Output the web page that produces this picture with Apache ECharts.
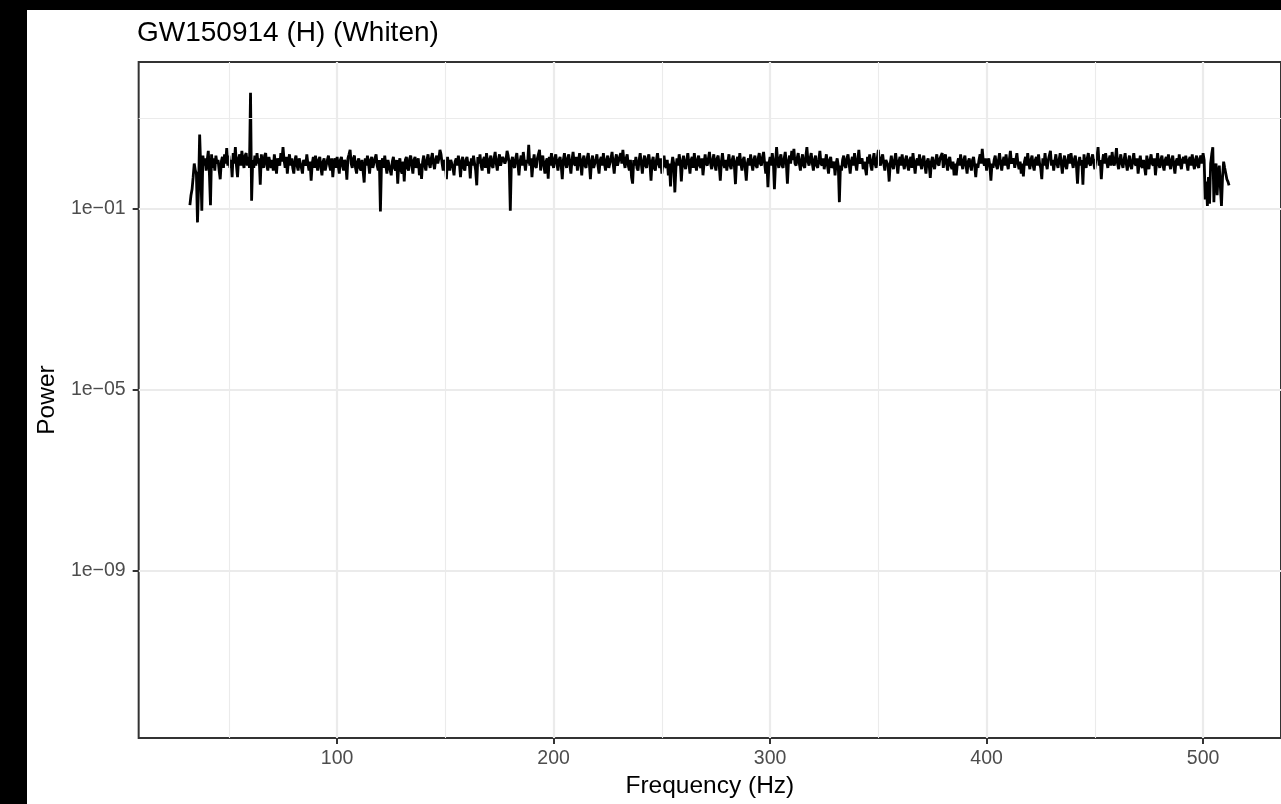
<!DOCTYPE html>
<html>
<head>
<meta charset="utf-8">
<title>GW150914 (H) (Whiten)</title>
<script src="https://cdn.jsdelivr.net/npm/echarts@6/dist/echarts.min.js"></script>
<style>
html, body { margin: 0; padding: 0; background: #000; }
#chart { position: absolute; left: 27px; top: 10px; width: 1254px; height: 794px; background: #fff; }
</style>
</head>
<body>
<div id="chart"></div>
<script>
// whitened power spectrum, one value every 0.5 Hz from 32 Hz (one row = 10 Hz)
const freqStart = 32
const freqStep = 0.5
const power = [
  0.12, 0.2, 0.27, 0.5, 1.0, 0.7, 0.6, 0.05, 0.3, 4.4, 0.8, 0.09, 1.5, 0.9, 1.3, 0.7, 1.2, 1.9, 0.6, 0.12, // 32
  1.6, 0.8, 1.3, 0.7, 1.5, 1.0, 1.2, 0.7, 0.45, 1.1, 1.4, 0.8, 1.6, 1.0, 2.2, 0.9, 1.5, 0.8, 1.2, 0.5, // 42
  1.7, 1.0, 2.3, 0.9, 0.5, 1.3, 1.6, 0.9, 1.9, 1.1, 0.8, 1.5, 1.7, 0.9, 1.4, 0.8, 36.6, 0.15, 1.2, 0.8, // 52
  1.5, 0.9, 1.7, 1.0, 1.3, 0.34, 1.6, 1.0, 0.8, 1.5, 1.7, 0.9, 0.7, 1.4, 1.5, 0.8, 1.2, 0.7, 1.6, 1.0, // 62
  0.6, 1.3, 1.4, 0.9, 1.7, 1.1, 2.3, 1.2, 0.8, 1.4, 0.6, 1.1, 1.6, 0.9, 1.3, 0.8, 0.6, 1.2, 1.5, 0.9, // 72
  0.7, 1.3, 1.4, 0.8, 0.6, 1.2, 1.3, 0.9, 1.6, 1.0, 0.7, 1.1, 0.42, 1.0, 1.4, 0.8, 1.5, 1.0, 0.7, 1.2, // 82
  1.4, 0.8, 0.55, 1.1, 1.3, 0.7, 0.65, 1.2, 1.5, 0.9, 0.7, 1.3, 0.5, 1.0, 1.3, 0.8, 1.4, 0.9, 0.6, 1.2, // 92
  1.4, 0.9, 0.7, 1.2, 1.0, 0.44, 1.3, 1.6, 2.0, 1.0, 0.8, 1.3, 1.5, 0.8, 0.6, 1.1, 1.3, 0.8, 0.7, 1.2, // 102
  1.1, 0.38, 1.3, 0.9, 1.5, 1.0, 0.6, 1.2, 1.4, 0.8, 0.75, 1.3, 1.6, 0.9, 0.7, 1.2, 0.087, 1.0, 1.3, 0.8, // 112
  1.5, 0.9, 0.6, 1.2, 1.3, 0.7, 0.55, 1.1, 1.4, 0.8, 0.7, 1.2, 0.36, 1.0, 1.3, 0.7, 0.6, 1.1, 0.4, 1.2, // 122
  1.4, 0.8, 0.7, 1.3, 1.5, 0.9, 0.6, 1.2, 1.4, 0.8, 0.8, 1.3, 0.55, 1.0, 0.46, 1.1, 1.5, 0.9, 0.7, 1.2, // 132
  1.6, 1.0, 0.8, 1.3, 1.7, 1.0, 0.75, 1.2, 1.5, 1.0, 1.3, 2.0, 1.6, 1.0, 0.7, 1.2, 1.0, 0.45, 1.4, 0.9, // 142
  0.7, 1.2, 1.3, 0.8, 0.55, 1.1, 1.3, 0.9, 1.5, 1.0, 0.5, 1.1, 1.4, 0.8, 0.7, 1.2, 1.4, 0.9, 1.1, 0.47, // 152
  1.3, 0.9, 1.5, 1.0, 0.7, 0.33, 1.4, 1.0, 1.6, 0.9, 0.7, 1.2, 1.4, 0.8, 1.7, 1.1, 0.6, 1.2, 1.5, 0.9, // 162
  0.8, 1.3, 1.8, 1.0, 0.7, 1.2, 1.6, 0.9, 0.9, 1.4, 1.5, 1.0, 1.2, 1.9, 1.5, 1.0, 0.09, 1.1, 1.4, 0.9, // 172
  0.8, 1.3, 1.7, 1.0, 0.55, 1.1, 1.5, 0.9, 1.8, 1.1, 0.7, 1.2, 1.0, 2.6, 0.9, 1.3, 0.5, 1.0, 1.6, 0.9, // 182
  0.8, 1.3, 1.4, 2.0, 0.7, 1.2, 1.5, 0.9, 0.6, 1.1, 1.3, 0.46, 1.4, 0.9, 1.7, 1.0, 0.8, 1.3, 1.6, 1.0, // 192
  0.7, 1.2, 1.4, 0.9, 0.45, 1.2, 1.7, 1.0, 0.8, 1.3, 1.6, 0.9, 0.6, 1.2, 1.8, 1.0, 0.9, 1.4, 0.7, 1.1, // 202
  1.7, 1.0, 0.55, 1.2, 1.5, 0.9, 0.8, 1.3, 1.7, 1.0, 0.45, 1.1, 1.5, 0.8, 0.75, 1.2, 1.6, 0.9, 0.6, 1.2, // 212
  1.4, 0.9, 1.7, 1.0, 0.7, 1.2, 1.5, 0.8, 0.8, 1.3, 1.8, 1.0, 0.6, 1.2, 1.6, 0.9, 0.9, 1.4, 1.7, 1.0, // 222
  2.0, 1.1, 0.8, 1.3, 1.6, 0.9, 0.7, 1.2, 0.5, 0.36, 1.2, 0.9, 1.4, 0.8, 0.7, 1.2, 1.7, 1.0, 0.6, 1.1, // 232
  1.5, 0.9, 0.8, 1.3, 1.6, 1.0, 0.42, 1.1, 1.4, 0.8, 0.7, 1.2, 1.7, 1.0, 0.8, 1.3, 0.6, 1.0, 1.5, 0.9, // 242
  0.8, 1.2, 0.55, 1.0, 0.31, 0.9, 1.4, 1.0, 0.23, 0.8, 1.3, 0.9, 1.6, 1.1, 0.4, 1.0, 1.5, 0.9, 0.75, 1.2, // 252
  1.7, 1.0, 0.6, 1.2, 1.4, 0.8, 1.7, 1.0, 0.7, 1.2, 1.5, 0.9, 0.8, 1.3, 0.55, 1.0, 1.6, 1.0, 0.9, 1.3, // 262
  1.8, 1.0, 0.75, 1.2, 1.6, 0.9, 0.7, 1.3, 1.5, 0.9, 0.42, 1.1, 1.7, 1.0, 0.8, 1.2, 0.7, 1.1, 1.6, 0.9, // 272
  0.75, 1.2, 1.5, 0.9, 0.35, 1.1, 1.4, 0.9, 1.7, 1.0, 0.7, 1.2, 1.4, 0.8, 0.42, 1.0, 1.3, 0.9, 1.6, 1.0, // 282
  0.7, 1.2, 1.5, 0.9, 0.8, 1.3, 1.7, 1.0, 0.9, 1.4, 1.8, 1.0, 0.6, 1.1, 0.3, 1.0, 1.4, 0.9, 1.7, 1.1, // 292
  0.27, 1.0, 2.3, 1.1, 0.8, 1.3, 1.6, 0.9, 0.8, 1.3, 1.8, 1.0, 0.36, 1.1, 1.5, 1.0, 1.9, 1.2, 2.1, 1.0, // 302
  0.9, 1.3, 1.7, 1.0, 0.7, 1.2, 1.6, 0.9, 0.8, 1.4, 2.3, 1.1, 0.9, 1.3, 1.7, 1.0, 0.7, 1.2, 1.5, 0.9, // 312
  0.8, 1.2, 1.9, 1.0, 0.9, 1.3, 0.75, 1.1, 1.6, 0.9, 0.6, 1.2, 1.4, 0.8, 0.75, 1.1, 0.55, 1.0, 1.3, 0.9, // 322
  0.14, 0.9, 0.7, 1.2, 1.5, 0.9, 0.8, 1.3, 1.6, 1.0, 0.6, 1.1, 1.4, 0.9, 1.7, 1.0, 0.7, 1.2, 2.0, 1.0, // 332
  1.0, 1.3, 0.75, 1.1, 1.2, 0.55, 1.4, 1.0, 1.6, 0.9, 0.7, 1.2, 1.7, 1.0, 0.8, 1.3, 2.0, 1.1, 0.9, 1.3, // 342
  1.6, 1.0, 0.7, 1.2, 1.3, 0.9, 0.4, 1.0, 1.5, 0.9, 0.75, 1.2, 1.7, 1.0, 0.6, 1.1, 1.4, 0.9, 1.6, 1.0, // 352
  0.75, 1.2, 1.5, 0.9, 0.7, 1.2, 1.4, 0.8, 1.7, 1.0, 0.6, 1.1, 1.3, 0.9, 1.6, 1.0, 0.75, 1.2, 1.5, 0.9, // 362
  0.6, 1.1, 1.3, 0.9, 0.48, 1.1, 1.4, 0.9, 0.75, 1.2, 1.6, 1.0, 0.9, 1.3, 1.4, 1.7, 0.8, 1.2, 1.6, 1.0, // 372
  0.7, 1.2, 1.4, 0.9, 0.75, 1.1, 0.55, 1.0, 0.55, 1.0, 1.3, 0.9, 1.6, 1.0, 0.75, 1.2, 1.5, 0.9, 0.6, 1.1, // 382
  1.3, 0.9, 0.7, 1.2, 1.4, 0.9, 0.5, 1.0, 0.8, 1.2, 1.6, 1.0, 2.1, 1.1, 0.9, 1.3, 0.7, 1.1, 1.3, 0.9, // 392
  0.42, 1.0, 0.8, 1.2, 1.5, 0.9, 0.75, 1.2, 1.7, 1.0, 0.7, 1.1, 1.4, 0.9, 1.6, 1.0, 0.75, 1.2, 1.9, 1.0, // 402
  1.0, 1.3, 0.8, 1.2, 1.7, 1.0, 0.75, 1.1, 0.6, 1.0, 0.52, 1.1, 1.4, 0.9, 1.7, 1.0, 0.75, 1.2, 1.5, 0.9, // 412
  0.7, 1.2, 1.4, 0.9, 1.6, 1.0, 0.8, 0.45, 1.3, 0.9, 1.7, 1.0, 0.75, 1.2, 1.3, 1.9, 0.9, 1.2, 0.7, 1.1, // 422
  1.6, 1.0, 0.8, 1.2, 1.7, 1.0, 0.6, 1.1, 1.5, 0.9, 0.75, 1.2, 1.6, 1.0, 1.7, 1.1, 0.8, 1.2, 1.5, 0.9, // 432
  0.36, 1.0, 1.4, 0.9, 1.2, 0.34, 1.6, 1.0, 0.8, 1.3, 1.7, 1.0, 0.9, 1.3, 1.6, 1.0, 0.75, 1.2, 1.4, 2.3, // 442
  0.9, 1.2, 0.45, 1.1, 1.6, 1.0, 1.7, 1.1, 0.8, 1.2, 1.5, 0.9, 1.8, 1.1, 0.9, 1.3, 2.2, 1.0, 0.75, 1.2, // 452
  1.6, 1.0, 0.8, 1.2, 1.7, 1.0, 0.7, 1.1, 1.5, 0.9, 0.75, 1.2, 1.7, 1.0, 0.9, 1.3, 0.6, 1.0, 1.5, 0.9, // 462
  0.8, 1.2, 1.3, 0.55, 1.5, 1.0, 0.75, 1.2, 1.6, 1.0, 0.9, 1.3, 0.55, 1.0, 1.7, 1.0, 0.8, 1.2, 1.5, 0.9, // 472
  0.7, 1.2, 1.4, 0.9, 1.6, 1.0, 0.75, 1.2, 1.5, 0.9, 0.6, 1.1, 1.3, 0.9, 1.6, 1.0, 0.75, 1.2, 1.4, 1.0, // 482
  1.5, 1.0, 0.7, 1.2, 1.4, 0.9, 1.6, 1.0, 0.75, 1.2, 1.5, 0.9, 0.8, 1.3, 1.5, 1.0, 1.7, 1.2, 0.16, 0.4, // 492
  0.115, 0.5, 0.13, 1.0, 1.6, 2.3, 0.14, 0.7, 1.0, 0.2, 0.6, 0.9, 0.3, 0.115, 0.5, 1.1, 0.8, 0.6, 0.45, 0.4, // 502
  0.33 // 512
]

const xTicks = [100, 200, 300, 400, 500]
const xMinor = [50, 150, 250, 350, 450]
const yTicks = [1e-9, 1e-5, 1e-1]
const yMinor = [1e-11, 1e-7, 1e-3, 1e1]

const titleText = 'GW150914 (H) (Whiten)'
const font = '"Liberation Sans", Arial, Helvetica, sans-serif'

const points = []
for (let i = 0; i < power.length; i++) {
  points.push([freqStart + i * freqStep, power[i]])
}

// ggplot style labels, 1e-01
function sci (v) {
  const e = Math.round(Math.log10(v))
  return '1e' + (e < 0 ? '\u2212' : '+') + String(Math.abs(e)).padStart(2, '0')
}

const minorLines = xMinor.map(v => ({ xAxis: v })).concat(yMinor.map(v => ({ yAxis: v })))

const chart = echarts.init(document.getElementById('chart'))

const option = {
  animation: false,
  backgroundColor: '#ffffff',
  title: {
    text: titleText,
    left: 110,
    top: 9,
    padding: 0,
    textStyle: { fontFamily: font, fontSize: 28, fontWeight: 'normal', color: '#000000' }
  },
  grid: {
    left: 110,
    right: -18,
    top: 52,
    bottom: 63,
    show: true,
    borderColor: '#333333',
    borderWidth: 2,
    backgroundColor: 'transparent'
  },
  xAxis: {
    type: 'value',
    min: 8.33,
    max: 536,
    name: 'Frequency (Hz)',
    nameLocation: 'middle',
    nameGap: 34,
    nameTextStyle: { fontFamily: font, fontSize: 24.5, color: '#000000' },
    axisLine: { show: false },
    axisTick: { show: true, length: 6, lineStyle: { color: '#333333', width: 2 }, customValues: xTicks },
    axisLabel: { customValues: xTicks, margin: 11, fontFamily: font, fontSize: 19.5, color: '#4d4d4d' },
    splitLine: { show: true, lineStyle: { color: '#ebebeb', width: 2.2 } }
  },
  yAxis: {
    type: 'log',
    logBase: 10,
    min: 1.98e-13,
    max: 175.8,
    name: 'Power',
    nameLocation: 'middle',
    nameGap: 76,
    nameTextStyle: { fontFamily: font, fontSize: 24.5, color: '#000000' },
    axisLine: { show: false },
    axisTick: { show: true, length: 6, lineStyle: { color: '#333333', width: 2 }, customValues: yTicks },
    axisLabel: { customValues: yTicks, margin: 13, formatter: sci, fontFamily: font, fontSize: 19.5, color: '#4d4d4d' },
    splitLine: { show: true, lineStyle: { color: '#ebebeb', width: 2.2 } }
  },
  series: [
    {
      // minor grid, kept under the data
      type: 'line',
      z: 1,
      silent: true,
      data: points,
      symbol: 'none',
      lineStyle: { opacity: 0 },
      markLine: {
        silent: true,
        symbol: 'none',
        label: { show: false },
        lineStyle: { color: '#ebebeb', width: 1.1, type: 'solid' },
        data: minorLines
      }
    },
    {
      type: 'line',
      z: 3,
      data: points,
      symbol: 'none',
      showSymbol: false,
      lineStyle: { color: '#000000', width: 2.8 }
    }
  ]
}
chart.setOption(option)
</script>
</body>
</html>
